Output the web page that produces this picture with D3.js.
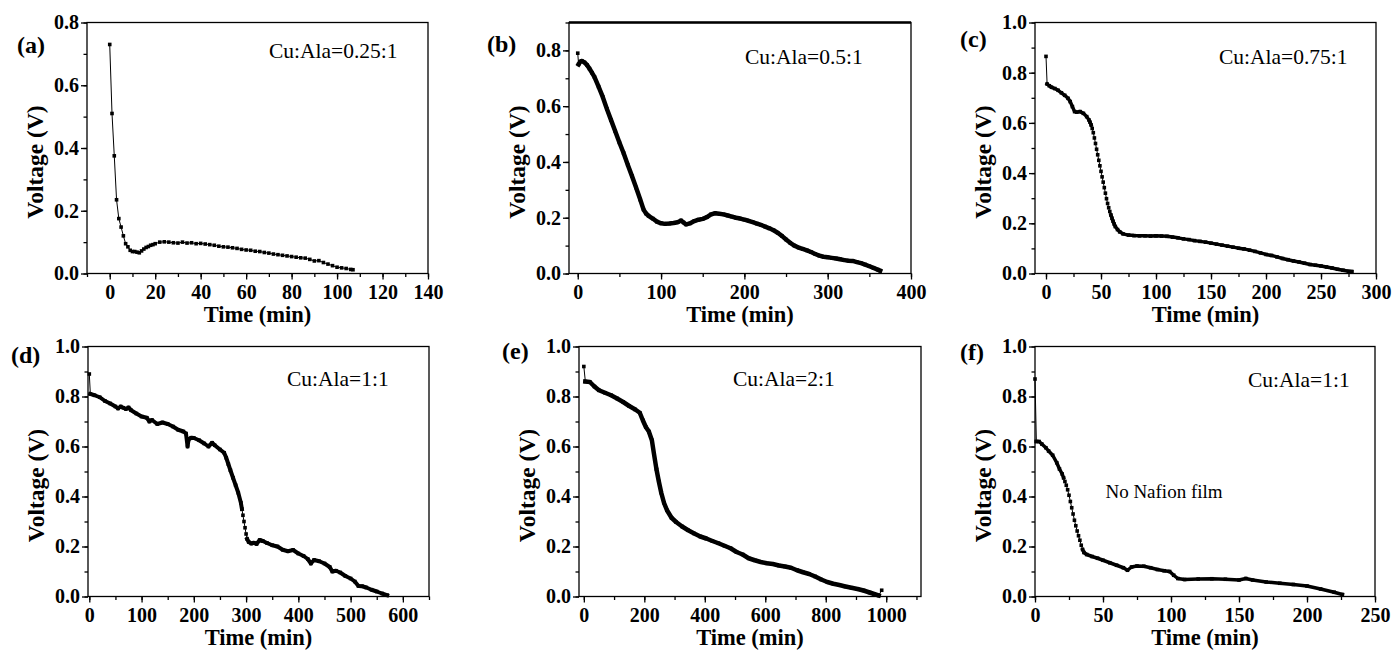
<!DOCTYPE html>
<html><head><meta charset="utf-8">
<script src="https://cdn.jsdelivr.net/npm/d3@7"></script>
<style>
html,body{margin:0;padding:0;background:#fff;}
svg{display:block;}
text{font-family:"Liberation Serif","Times New Roman",serif;fill:#000;}
</style></head>
<body>
<svg id="chart" width="1392" height="653"></svg>
<script>
// ---------------- DATA ----------------
const panelLabels = ["(a)","(b)","(c)","(d)","(e)","(f)"];
const ratioLabels = ["Cu:Ala=0.25:1","Cu:Ala=0.5:1","Cu:Ala=0.75:1","Cu:Ala=1:1","Cu:Ala=2:1","Cu:Ala=1:1"];
const noteF = "No Nafion film";
const xTitle = "Time (min)";
const yTitle = "Voltage (V)";

const xTicksA = [0,20,40,60,80,100,120,140];
const xTicksB = [0,100,200,300,400];
const xTicksC = [0,50,100,150,200,250,300];
const xTicksD = [0,100,200,300,400,500,600];
const xTicksE = [0,200,400,600,800,1000];
const xTicksF = [0,50,100,150,200,250];
const yTicks08 = [0,0.2,0.4,0.6,0.8];
const yTicks10 = [0,0.2,0.4,0.6,0.8,1.0];

const seriesA = [[0,0.73],[1,0.51],[2,0.375],[3,0.235],[4,0.175],[5,0.148],[6,0.12],[7,0.095],[8,0.085],[9,0.074],[10,0.07],[11,0.07],[12,0.068],[13,0.066],[14,0.072],[15,0.078],[16,0.083],[17,0.086],[18,0.09],[19,0.092],[20,0.095],[22,0.1],[24,0.101],[26,0.1],[28,0.098],[30,0.097],[32,0.1],[34,0.097],[36,0.098],[38,0.095],[40,0.096],[42,0.094],[44,0.092],[46,0.09],[48,0.087],[50,0.085],[52,0.084],[54,0.082],[56,0.08],[58,0.077],[60,0.075],[62,0.074],[64,0.071],[66,0.07],[68,0.067],[70,0.065],[72,0.062],[74,0.06],[76,0.058],[78,0.056],[80,0.054],[82,0.052],[84,0.05],[86,0.049],[88,0.045],[90,0.04],[92,0.041],[94,0.035],[96,0.03],[98,0.025],[100,0.02],[102,0.018],[104,0.016],[106,0.013],[107,0.012]];

const seriesB = [[0,0.79],[1,0.75],[3,0.76],[5,0.762],[8,0.757],[11,0.748],[14,0.735],[17,0.72],[20,0.705],[25,0.67],[30,0.633],[35,0.59],[40,0.55],[45,0.51],[50,0.47],[55,0.432],[60,0.39],[65,0.35],[70,0.308],[75,0.265],[79,0.229],[82,0.215],[85,0.207],[90,0.197],[95,0.186],[100,0.18],[105,0.178],[110,0.179],[115,0.181],[120,0.184],[124,0.19],[127,0.183],[130,0.176],[135,0.18],[140,0.188],[145,0.193],[150,0.196],[155,0.202],[160,0.212],[165,0.216],[170,0.214],[175,0.212],[180,0.208],[185,0.204],[190,0.2],[195,0.197],[200,0.193],[205,0.189],[210,0.184],[215,0.179],[220,0.174],[225,0.168],[230,0.162],[235,0.155],[240,0.146],[245,0.135],[250,0.122],[255,0.11],[260,0.1],[265,0.093],[270,0.088],[275,0.083],[280,0.077],[285,0.07],[290,0.064],[295,0.06],[300,0.058],[305,0.056],[310,0.054],[315,0.051],[320,0.048],[325,0.046],[330,0.045],[335,0.041],[340,0.037],[345,0.032],[350,0.026],[355,0.02],[360,0.014],[363,0.01]];

const seriesC = [[0,0.865],[1,0.755],[3,0.748],[5,0.742],[8,0.737],[11,0.73],[14,0.72],[17,0.71],[20,0.698],[22,0.685],[24,0.665],[26,0.645],[28,0.643],[31,0.645],[34,0.638],[37,0.625],[39,0.612],[40,0.603],[41,0.592],[42,0.578],[43,0.561],[44,0.54],[45,0.518],[46,0.495],[47,0.473],[48,0.451],[49,0.429],[50,0.407],[51,0.385],[52,0.364],[53,0.342],[54,0.32],[55,0.298],[56,0.279],[57,0.262],[58,0.247],[59,0.233],[60,0.22],[61,0.208],[62,0.197],[63,0.187],[65,0.175],[67,0.166],[70,0.158],[75,0.153],[80,0.151],[85,0.15],[90,0.15],[95,0.149],[100,0.15],[105,0.149],[110,0.148],[115,0.145],[120,0.142],[125,0.138],[130,0.135],[135,0.131],[140,0.128],[145,0.125],[150,0.121],[155,0.117],[160,0.113],[165,0.109],[170,0.105],[175,0.101],[180,0.098],[185,0.093],[190,0.088],[195,0.082],[200,0.076],[205,0.072],[210,0.066],[215,0.06],[220,0.055],[225,0.05],[230,0.046],[235,0.041],[240,0.036],[245,0.033],[250,0.03],[255,0.026],[260,0.022],[265,0.017],[270,0.013],[275,0.009],[278,0.008]];

const seriesD = [[0,0.89],[2,0.81],[10,0.805],[20,0.797],[30,0.782],[40,0.772],[50,0.76],[55,0.752],[60,0.76],[65,0.755],[70,0.75],[75,0.756],[80,0.745],[90,0.732],[100,0.72],[110,0.715],[115,0.7],[120,0.706],[130,0.69],[140,0.696],[150,0.69],[160,0.68],[170,0.667],[180,0.66],[185,0.652],[188,0.6],[190,0.628],[195,0.635],[200,0.634],[210,0.625],[220,0.612],[228,0.6],[235,0.615],[240,0.605],[250,0.588],[258,0.575],[262,0.555],[266,0.53],[270,0.505],[275,0.475],[280,0.445],[285,0.415],[290,0.375],[292,0.35],[294,0.325],[296,0.3],[298,0.275],[300,0.25],[302,0.23],[305,0.218],[310,0.212],[315,0.215],[320,0.21],[326,0.226],[332,0.222],[340,0.214],[350,0.205],[360,0.2],[370,0.187],[380,0.181],[390,0.186],[400,0.172],[410,0.162],[418,0.15],[424,0.132],[430,0.146],[440,0.141],[450,0.132],[460,0.118],[465,0.1],[472,0.103],[480,0.096],[490,0.082],[500,0.072],[508,0.06],[515,0.042],[522,0.041],[530,0.036],[540,0.027],[550,0.02],[560,0.012],[570,0.005]];

const seriesE = [[0,0.92],[5,0.86],[20,0.858],[35,0.84],[50,0.825],[70,0.815],[90,0.805],[110,0.792],[130,0.778],[150,0.762],[170,0.748],[185,0.735],[195,0.705],[205,0.678],[215,0.66],[225,0.625],[232,0.57],[240,0.51],[248,0.46],[256,0.415],[265,0.375],[275,0.345],[290,0.315],[305,0.298],[325,0.28],[345,0.265],[365,0.252],[385,0.24],[405,0.232],[425,0.222],[445,0.213],[465,0.203],[485,0.193],[505,0.178],[525,0.168],[545,0.153],[565,0.145],[585,0.138],[605,0.133],[625,0.13],[645,0.124],[665,0.12],[685,0.115],[705,0.105],[725,0.097],[745,0.09],[765,0.08],[785,0.068],[805,0.058],[825,0.051],[845,0.046],[865,0.04],[885,0.035],[905,0.03],[925,0.024],[945,0.016],[960,0.01],[975,0.004],[985,0.025]];

const seriesF = [[0,0.87],[1,0.62],[3,0.62],[5,0.61],[8,0.595],[10,0.582],[13,0.565],[16,0.535],[18,0.51],[20,0.49],[21,0.475],[22,0.46],[23,0.445],[24,0.427],[25,0.405],[26,0.38],[27,0.355],[28,0.33],[29,0.305],[30,0.283],[31,0.262],[32,0.243],[33,0.225],[34,0.205],[35,0.188],[36,0.176],[38,0.168],[42,0.16],[46,0.153],[50,0.145],[55,0.135],[60,0.125],[65,0.115],[68,0.105],[71,0.118],[75,0.122],[80,0.121],[85,0.115],[90,0.108],[95,0.103],[99,0.1],[102,0.085],[105,0.072],[110,0.068],[120,0.07],[130,0.071],[140,0.069],[150,0.066],[155,0.072],[160,0.066],[170,0.058],[180,0.053],[190,0.048],[200,0.042],[210,0.03],[220,0.017],[226,0.008]];

// ---------------- LAYOUT ----------------
const panels = [
  {data:seriesA, xt:xTicksA, xMinor:10, yt:yTicks08, xd:[-10,140], yd:[0,0.8], L:87,  R:428, T:22.5, B:273.5, thick:0,   thickFrom:0, thickTo:0, thin:null, lab:[17,53],  ratio:[269,58], topW:1.3},
  {data:seriesB, xt:xTicksB, xMinor:50, yt:yTicks08, xd:[-10.5,400], yd:[0,0.9], L:569, R:911, T:22.5, B:273.5, thick:4.5, thickFrom:1, thickTo:0, thin:null, lab:[487,52], ratio:[745,64], topW:2.4},
  {data:seriesC, xt:xTicksC, xMinor:25, yt:yTicks10, xd:[-10,300], yd:[0,1], L:1035, R:1376, T:22.5, B:273.5, thick:3.5, thickFrom:1, thickTo:0, thin:[41,59], lab:[960,47], ratio:[1219,64], topW:1.3},
  {data:seriesD, xt:xTicksD, xMinor:50, yt:yTicks10, xd:[-2.5,650], yd:[0,1], L:88,  R:429, T:346.5, B:596.5, thick:4,  thickFrom:1, thickTo:0, thin:[292,302], lab:[11,363], ratio:[287,386], topW:1.3},
  {data:seriesE, xt:xTicksE, xMinor:100, yt:yTicks10, xd:[-16,1115], yd:[0,1], L:579, R:921, T:346.5, B:596.5, thick:4.5, thickFrom:1, thickTo:1, thin:null, lab:[502,359], ratio:[733,386], topW:1.3},
  {data:seriesF, xt:xTicksF, xMinor:25, yt:yTicks10, xd:[0,250], yd:[0,1], L:1035, R:1375, T:346.5, B:596.5, thick:3.5, thickFrom:1, thickTo:0, thin:[21,35], lab:[960,360], ratio:[1248,387], topW:1.3}
];

const svg = d3.select("#chart");
const fmtY = d3.format(".1f");
const FONT = '"Liberation Serif","Times New Roman",serif';

panels.forEach((p, i) => {
  const x = d3.scaleLinear().domain(p.xd).range([p.L, p.R]);
  const y = d3.scaleLinear().domain(p.yd).range([p.B, p.T]);
  const g = svg.append("g");

  // minor ticks
  const xMinorVals = d3.range(Math.ceil(p.xd[0]/p.xMinor)*p.xMinor, p.xd[1]+1e-9, p.xMinor);
  const yMinorVals = d3.range(0, p.yd[1]+1e-9, 0.1);
  const xm = g.append("g").attr("transform",`translate(0,${p.B})`)
    .call(d3.axisBottom(x).tickValues(xMinorVals).tickSize(3.5).tickFormat("").tickSizeOuter(0));
  xm.select(".domain").remove();
  const ym = g.append("g").attr("transform",`translate(${p.L},0)`)
    .call(d3.axisLeft(y).tickValues(yMinorVals).tickSize(3.5).tickFormat("").tickSizeOuter(0));
  ym.select(".domain").remove();

  // major ticks
  const xa = g.append("g").attr("transform",`translate(0,${p.B})`)
    .call(d3.axisBottom(x).tickValues(p.xt).tickSize(6).tickPadding(5).tickSizeOuter(0).tickFormat(d3.format("d")));
  xa.select(".domain").remove();
  xa.selectAll("text").attr("font-size","20px").attr("font-weight","bold").style("font-family",FONT);
  const ya = g.append("g").attr("transform",`translate(${p.L},0)`)
    .call(d3.axisLeft(y).tickValues(p.yt).tickSize(6).tickPadding(2).tickSizeOuter(0).tickFormat(fmtY));
  ya.select(".domain").remove();
  ya.selectAll("text").attr("font-size","20px").attr("font-weight","bold").style("font-family",FONT);
  g.selectAll(".tick line").attr("stroke","#000").attr("stroke-width",1.3);

  // frame
  g.append("rect").attr("x",p.L).attr("y",p.T).attr("width",p.R-p.L).attr("height",p.B-p.T)
    .attr("fill","none").attr("stroke","#000").attr("stroke-width",1.3);
  if (p.topW > 1.3) {
    g.append("line").attr("x1",p.L).attr("x2",p.R).attr("y1",p.T).attr("y2",p.T)
      .attr("stroke","#000").attr("stroke-width",p.topW);
  }

  // data
  const line = d3.line().x(d=>x(d[0])).y(d=>y(d[1]));
  g.append("path").datum(p.data).attr("d",line).attr("fill","none")
    .attr("stroke","#000").attr("stroke-width",1);
  if (p.thick > 0) {
    const sub = p.data.slice(p.thickFrom, p.data.length - p.thickTo);
    const thickLine = d3.line().x(d=>x(d[0])).y(d=>y(d[1]))
      .defined(d => !(p.thin && d[0] > p.thin[0] && d[0] < p.thin[1]));
    g.append("path").datum(sub).attr("d",thickLine).attr("fill","none")
      .attr("stroke","#000").attr("stroke-width",p.thick)
      .attr("stroke-linejoin","round").attr("stroke-linecap","square");
  }
  const ms = 3.6;
  g.selectAll("rect.pt").data(p.data).enter().append("rect").attr("class","pt")
    .attr("x",d=>x(d[0])-ms/2).attr("y",d=>y(d[1])-ms/2).attr("width",ms).attr("height",ms)
    .attr("fill","#000");

  // titles
  g.append("text").attr("x",(p.L+p.R)/2).attr("y",p.B+48.5).attr("text-anchor","middle")
    .attr("font-size","22.5px").attr("font-weight","bold").text(xTitle);
  const cy = (p.T+p.B)/2 + 14;
  g.append("text").attr("transform",`translate(${p.L-44},${cy}) rotate(-90)`).attr("text-anchor","middle")
    .attr("font-size","23.5px").attr("font-weight","bold").text(yTitle);

  g.append("text").attr("x",p.lab[0]).attr("y",p.lab[1]).attr("font-size","24px").attr("font-weight","bold")
    .text(panelLabels[i]);
  g.append("text").attr("x",p.ratio[0]).attr("y",p.ratio[1]).attr("font-size","21.5px")
    .text(ratioLabels[i]);
  if (i === 5) {
    g.append("text").attr("x",1164).attr("y",498).attr("text-anchor","middle")
      .attr("font-size","19px").text(noteF);
  }
});
</script>
</body></html>
